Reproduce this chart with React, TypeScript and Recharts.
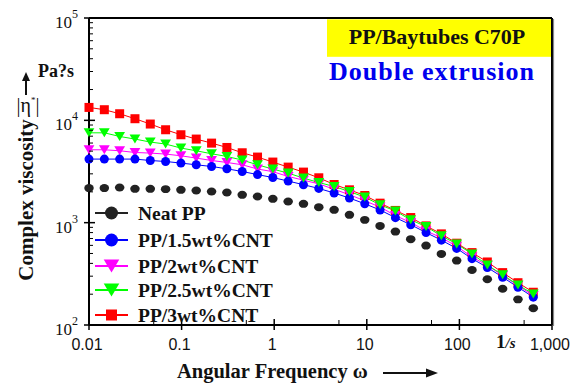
import React from 'react';
import { LineChart, Line, XAxis, YAxis, ReferenceLine, Legend } from 'recharts';

// angular frequency sweep, rad/s (30 log-spaced points, 0.01 .. 628)
const frequency = [
  0.01, 0.01464, 0.02143, 0.03136, 0.0459, 0.0672, 0.09833, 0.1439, 0.2107, 0.3084,
  0.4514, 0.6606, 0.9669, 1.415, 2.071, 3.031, 4.437, 6.494, 9.507, 13.91,
  20.37, 29.81, 43.63, 63.87, 93.48, 136.8, 200.3, 293.1, 429.1, 628,
];

// complex viscosity |η*|, Pa·s
const neatPP = [
  2177, 2177, 2205, 2141, 2141, 2127, 2094, 2062, 2015, 1970,
  1871, 1801, 1710, 1609, 1528, 1418, 1334, 1192, 1065, 930,
  818, 690, 597, 495, 426, 345, 280, 226, 178, 146,
];
const cnt15 = [
  4181, 4181, 4181, 4181, 4051, 3961, 3821, 3678, 3540, 3361,
  3162, 2950, 2760, 2550, 2350, 2160, 1950, 1740, 1530, 1330,
  1120, 955, 800, 675, 560, 445, 365, 293, 234, 187,
];
const cnt2 = [
  5156, 5156, 5041, 4852, 4786, 4681, 4503, 4277, 4051, 3874,
  3678, 3346, 3150, 2828, 2602, 2394, 2119, 1876, 1635, 1421,
  1173, 1003, 830, 713, 588, 462, 382, 305, 243, 194,
];
const cnt25 = [
  7550, 7550, 6957, 6561, 6134, 5864, 5358, 5041, 4713, 4436,
  4088, 3678, 3338, 3051, 2725, 2469, 2256, 2015, 1777, 1494,
  1299, 1065, 916, 743, 620, 495, 386, 309, 246, 201,
];
const cnt3 = [
  13370, 12700, 11600, 10370, 9200, 8090, 7230, 6560, 5990, 5430,
  4820, 4375, 3910, 3490, 3120, 2745, 2360, 2094, 1842, 1551,
  1317, 1122, 930, 777, 630, 510, 413, 325, 259, 209,
];

const xTicks = [0.01, 0.05, 0.1, 0.5, 1, 5, 10, 50, 100, 500, 1000];
const yTicks = [
  100, 200, 300, 400, 500, 600, 700, 800, 900,
  1000, 2000, 3000, 4000, 5000, 6000, 7000, 8000, 9000,
  10000, 20000, 30000, 40000, 50000, 60000, 70000, 80000, 90000, 100000,
];

const legendItems = [
  { name: 'Neat PP', color: '#222222', shape: 'circle' },
  { name: 'PP/1.5wt%CNT', color: '#0000ff', shape: 'circle' },
  { name: 'PP/2wt%CNT', color: '#ff00ff', shape: 'triangle' },
  { name: 'PP/2.5wt%CNT', color: '#00ff00', shape: 'triangle' },
  { name: 'PP/3wt%CNT', color: '#ff0000', shape: 'square' },
];

const rows = frequency.map((f, i) => ({
  f,
  neat: neatPP[i],
  cnt15: cnt15[i],
  cnt2: cnt2[i],
  cnt25: cnt25[i],
  cnt3: cnt3[i],
}));

const serif = { fontFamily: "'Liberation Serif', 'Times New Roman', Times, serif" };
const sans = { fontFamily: "'Liberation Sans', Arial, Helvetica, sans-serif" };

const isMajor = (v: number) => Math.abs(Math.log10(v) - Math.round(Math.log10(v))) < 1e-6;

function XTick(props: any) {
  const { x, y, payload } = props;
  const v = payload.value as number;
  if (!isMajor(v)) {
    return <line x1={x} x2={x} y1={y} y2={y - 5} stroke="#000" strokeWidth={1} />;
  }
  return (
    <g>
      <line x1={x} x2={x} y1={y - 6} y2={y + 5} stroke="#000" strokeWidth={1.5} />
      <text x={x - 2} y={y + 25} textAnchor="middle" style={sans} fontSize={16} fill="#111">
        {v.toLocaleString('en-US')}
      </text>
    </g>
  );
}

function YTick(props: any) {
  const { x, y, payload } = props;
  const v = payload.value as number;
  if (!isMajor(v)) {
    return <line x1={x} x2={x + 4} y1={y} y2={y} stroke="#000" strokeWidth={1} />;
  }
  const exp = Math.round(Math.log10(v));
  return (
    <g>
      <line x1={x - 5} x2={x + 6} y1={y} y2={y} stroke="#000" strokeWidth={1.5} />
      <text x={x - 11} y={y + 10} textAnchor="end" style={serif} fontSize={17} fill="#111">
        <tspan>10</tspan>
        <tspan dy={-10} fontSize={12}>{exp}</tspan>
      </text>
    </g>
  );
}

function marker(shape: string, color: string, cx: number, cy: number, s: number, key?: string) {
  if (shape === 'square') {
    return <rect key={key} x={cx - s / 2} y={cy - s / 2} width={s} height={s} fill={color} />;
  }
  if (shape === 'triangle') {
    const w = s * 1.2;
    const h = s;
    return (
      <polygon
        key={key}
        points={`${cx - w / 2},${cy - h / 2} ${cx + w / 2},${cy - h / 2} ${cx},${cy + h / 2}`}
        fill={color}
      />
    );
  }
  if (shape === 'blob') {
    return <ellipse key={key} cx={cx} cy={cy} rx={s / 2} ry={s * 0.42} fill={color} />;
  }
  return <circle key={key} cx={cx} cy={cy} r={s / 2} fill={color} />;
}

const dotFor = (shape: string, color: string, size: number) => (p: any) =>
  p.cx == null ? <g key={`e-${p.index}`} /> : marker(shape, color, p.cx, p.cy, size, `d-${p.index}`);

function LegendBox() {
  const ys = [13, 40, 66, 90, 115];
  return (
    <svg width={200} height={130}>
      {legendItems.map((it, i) => (
        <g key={it.name}>
          <line x1={5} x2={38} y1={ys[i]} y2={ys[i]} stroke={it.color} strokeWidth={2} />
          {marker(it.shape, it.color, 21.5, ys[i], it.shape === 'square' ? 11 : 13)}
          <text x={48} y={ys[i] + 7} style={serif} fontWeight="bold" fontSize={19.5} fill="#111">
            {it.name}
          </text>
        </g>
      ))}
    </svg>
  );
}

export default function App() {
  return (
    <div style={{ position: 'absolute', left: 0, top: 0, width: 583, height: 386, background: '#fff' }}>
      <LineChart width={583} height={386} data={rows} margin={{ top: 18, right: 31, bottom: 31, left: 49 }}>
        <XAxis
          dataKey="f"
          type="number"
          scale="log"
          domain={[0.01, 1000]}
          ticks={xTicks}
          interval={0}
          tick={XTick}
          tickLine={false}
          tickSize={0}
          tickMargin={0}
          height={30}
          axisLine={{ stroke: '#000', strokeWidth: 2 }}
        />
        <YAxis
          type="number"
          scale="log"
          domain={[100, 100000]}
          ticks={yTicks}
          interval={0}
          tick={YTick}
          tickLine={false}
          tickSize={0}
          tickMargin={0}
          width={40}
          axisLine={{ stroke: '#000', strokeWidth: 2 }}
        />
        <ReferenceLine y={100000} stroke="#000" strokeWidth={2} />
        <ReferenceLine x={1000} stroke="#000" strokeWidth={2} />
        <Legend
          layout="vertical"
          align="center"
          verticalAlign="middle"
          content={() => <LegendBox />}
          wrapperStyle={{ position: 'absolute', left: 90, top: 200, width: 200, height: 130 }}
        />
        <Line dataKey="neat" name="Neat PP" stroke="none" isAnimationActive={false}
          dot={dotFor('blob', '#222222', 9.5)} activeDot={false} />
        <Line dataKey="cnt3" name="PP/3wt%CNT" stroke="#ff0000" strokeWidth={1} isAnimationActive={false}
          dot={dotFor('square', '#ff0000', 9)} activeDot={false} />
        <Line dataKey="cnt2" name="PP/2wt%CNT" stroke="#ff00ff" strokeWidth={1} isAnimationActive={false}
          dot={dotFor('triangle', '#ff00ff', 9)} activeDot={false} />
        <Line dataKey="cnt15" name="PP/1.5wt%CNT" stroke="#0000ff" strokeWidth={1} isAnimationActive={false}
          dot={dotFor('circle', '#0000ff', 9)} activeDot={false} />
        <Line dataKey="cnt25" name="PP/2.5wt%CNT" stroke="#00ff00" strokeWidth={1} isAnimationActive={false}
          dot={dotFor('triangle', '#00ff00', 9)} activeDot={false} />
      </LineChart>
      <svg width={583} height={386} style={{ position: 'absolute', left: 0, top: 0, pointerEvents: 'none' }}>
        <line x1={553.5} x2={553.5} y1={19} y2={326} stroke="#888" strokeWidth={1.2} />
        <rect x={327} y={19.3} width={224} height={37.5} fill="#ffff00" />
        <text x={437} y={43.5} textAnchor="middle" style={serif} fontWeight="bold" fontSize={22} fill="#111">
          PP/Baytubes C70P
        </text>
        <text x={432} y={80} textAnchor="middle" style={serif} fontWeight="bold" fontSize={26}
          letterSpacing={1} fill="#0000ee">
          Double extrusion
        </text>
        <text x={38} y={77} style={serif} fontWeight="bold" fontSize={18} fill="#111">Pa?s</text>
        <line x1={26} x2={26} y1={95} y2={80} stroke="#111" strokeWidth={2} />
        <polygon points="22,81 30,81 26,72" fill="#111" />
        <text x={28} y={112} textAnchor="middle" style={serif} fontSize={20} fill="#111">
          |η<tspan fontSize={9} dy={-9}>*</tspan><tspan dy={9}>|</tspan>
        </text>
        <text x={33} y={200} transform="rotate(-90 33 200)" textAnchor="middle" style={serif}
          fontWeight="bold" fontSize={21} fill="#111">
          Complex viscosity
        </text>
        <text x={496} y={348} style={serif} fontWeight="bold" fontSize={19} fill="#111">
          1<tspan fontSize={15} fontStyle="italic">/s</tspan>
        </text>
        <text x={177} y={378} style={serif} fontWeight="bold" fontSize={20.5} fill="#111">
          Angular Frequency ω
        </text>
        <line x1={383} x2={428} y1={373} y2={373} stroke="#111" strokeWidth={2} />
        <polygon points="426,368.5 426,377.5 438,373" fill="#111" />
      </svg>
    </div>
  );
}
